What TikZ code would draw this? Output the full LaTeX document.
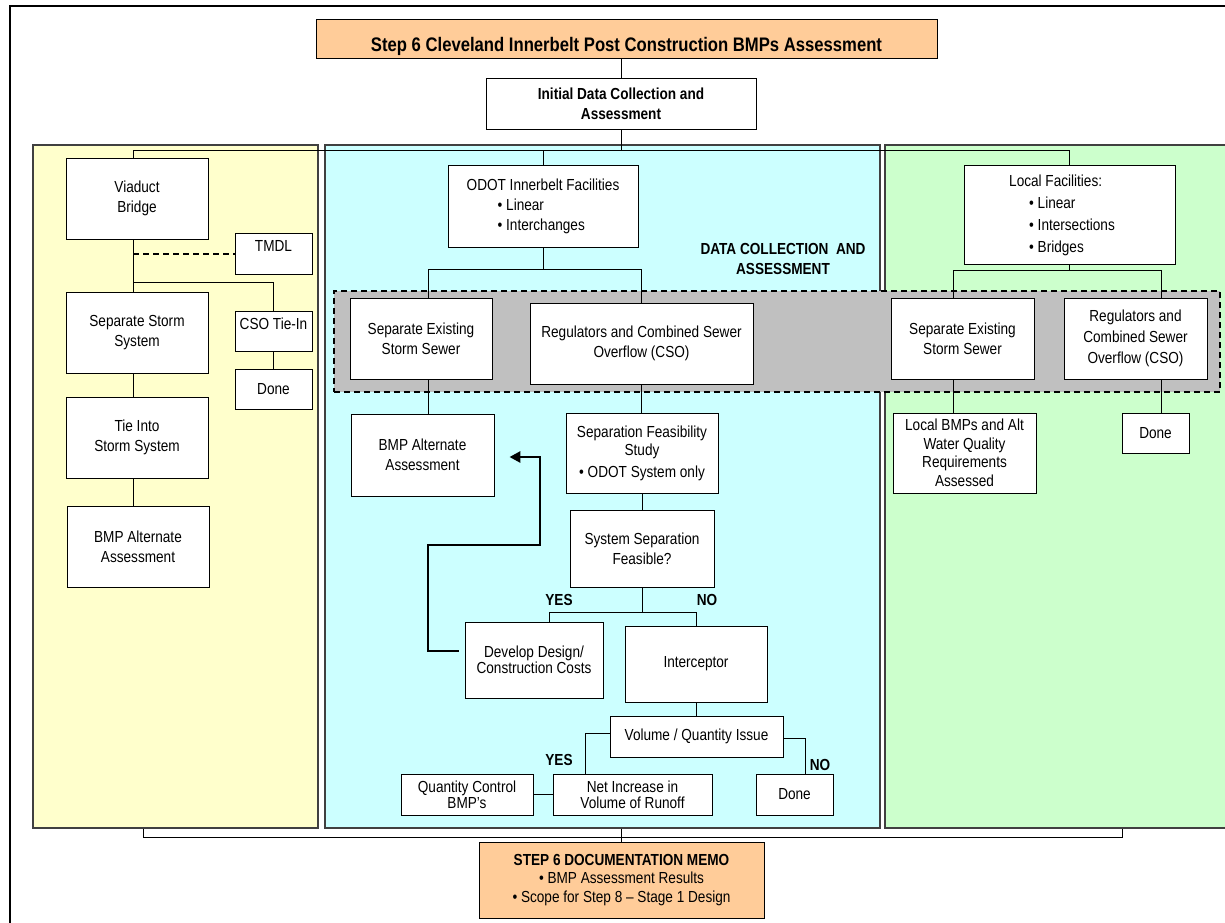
\documentclass[tikz,border=0pt]{standalone}
\usepackage{fontspec}
\setmainfont{Liberation Sans}[FakeStretch=0.85]
\usetikzlibrary{arrows.meta}
\definecolor{paleyellow}{HTML}{FFFFCC}
\definecolor{palecyan}{HTML}{CCFFFF}
\definecolor{palegreen}{HTML}{CCFFCC}
\definecolor{peach}{HTML}{FFCC99}
\definecolor{zonegray}{HTML}{C0C0C0}
\newcommand{\bodyfont}{\fontsize{16}{20}\selectfont}
\newcommand{\tightfont}{\fontsize{16}{16}\selectfont}
\newcommand{\headfont}{\fontsize{16}{20}\selectfont\bfseries}

\begin{document}
\begin{tikzpicture}[x=1pt,y=-1pt,
  box/.style={draw=black, fill=white, line width=0.9pt, inner sep=0pt, align=center, font=\bodyfont},
  panel/.style={draw=black!75, line width=1.2pt, inner sep=0pt},
  memobox/.style={box, fill=peach},
  link/.style={line width=0.9pt},
  txt/.style={inner sep=0pt, align=center, font=\bodyfont},
  tag/.style={inner sep=0pt, font=\headfont},
  backarrow/.style={line width=2.8pt, -{Triangle[length=11pt,width=11pt]}},
  tmdlline/.style={line width=2pt, dash pattern=on 6pt off 4pt}]

\useasboundingbox (0,0) rectangle (1225,922);
\clip (0,0) rectangle (1225,922);
\fill[white] (0,0) rectangle (1225,922);

% outer frame
\draw[line width=2.8pt] (10,6) rectangle (1245,945);

% coloured zones
\node[panel, fill=paleyellow, minimum width=285, minimum height=683] (zoneA) at (175.5,486.5) {};
\node[panel, fill=palecyan, minimum width=555, minimum height=683] (zoneB) at (602.5,486.5) {};
\node[panel, fill=palegreen, minimum width=350, minimum height=683] (zoneC) at (1060,486.5) {};
% grey data-collection band
\node[draw=black, line width=2pt, dash pattern=on 6pt off 4pt, fill=zonegray, inner sep=0pt,
      minimum width=886, minimum height=101] (band) at (777,341.5) {};

% header
\node[memobox, minimum width=621, minimum height=39] (head) at (626.5,38.5) {};
\node[tag, font=\fontsize{19.6}{22}\selectfont\bfseries] (headtext) at (626.5,46)
  {Step 6 Cleveland Innerbelt Post Construction BMPs Assessment};
\node[box, font=\headfont, minimum width=270, minimum height=51] (init) at (621,103.5)
  {Initial Data Collection and\\Assessment};

% viaduct / bridge column
\node[box, minimum width=142, minimum height=81] (viaduct) at (137,198.5) {Viaduct\\Bridge};
\node[box, minimum width=77, minimum height=41] (tmdl) at (273.5,253.5) {};
\node[txt] (tmdltext) at (273.5,246) {TMDL};
\node[box, minimum width=142, minimum height=81] (sepstorm) at (137,332.5) {Separate Storm\\System};
\node[box, minimum width=77, minimum height=40] (csotie) at (273.5,331) {};
\node[txt] (csotietext) at (273.5,324) {CSO Tie-In};
\node[box, minimum width=77, minimum height=40] (doneA) at (273.5,389) {Done};
\node[box, minimum width=142, minimum height=81] (tieinto) at (137,437.5) {Tie Into\\Storm System};
\node[box, minimum width=142, minimum height=81] (altA) at (138,546.5) {BMP Alternate\\Assessment};

% ODOT column
\node[box, align=left, minimum width=190, minimum height=82] (odot) at (543,206)
  {ODOT Innerbelt Facilities\\\hspace*{31pt}• Linear\\\hspace*{31pt}• Interchanges};
\node[txt, font=\headfont] (bandtext) at (783,258.5) {DATA COLLECTION\ \ AND\\ASSESSMENT};
\node[box, minimum width=142, minimum height=81] (sepexB) at (421,338.5) {Separate Existing\\Storm Sewer};
\node[box, minimum width=223, minimum height=81] (regB) at (641.5,343.5) {Regulators and Combined Sewer\\Overflow (CSO)};
\node[box, minimum width=143, minimum height=82] (altB) at (422.5,455) {BMP Alternate\\Assessment};
\node[box, font=\fontsize{16}{18}\selectfont, minimum width=152, minimum height=80] (feas) at (642,453)
  {Separation Feasibility\\Study\\[4pt]• ODOT System only};
\node[box, minimum width=144, minimum height=77] (sysfeas) at (642,548.5) {System Separation\\Feasible?};
\node[tag] (yesA) at (559,600) {YES};
\node[tag] (noA) at (707,600) {NO};
\node[box, font=\tightfont, minimum width=138, minimum height=76] (design) at (534,660) {Develop Design/\\Construction Costs};
\node[box, minimum width=142, minimum height=76] (intercept) at (696,664) {Interceptor};
\node[box, minimum width=173, minimum height=41] (volume) at (696.5,736.5) {Volume / Quantity Issue};
\node[tag] (yesB) at (559,760) {YES};
\node[tag] (noB) at (820,765) {NO};
\node[box, font=\tightfont, minimum width=132, minimum height=41] (qty) at (467,794.5) {Quantity Control\\BMP’s};
\node[box, font=\tightfont, minimum width=159, minimum height=41] (runoff) at (632.5,794.5) {Net Increase in\\Volume of Runoff};
\node[box, minimum width=77, minimum height=41] (doneB) at (794.5,794.5) {Done};

% local facilities column
\node[box, minimum width=211, minimum height=99] (local) at (1069.5,214.5) {};
\node[txt, align=left, font=\fontsize{16}{22}\selectfont] (localtext) at (1062,215)
  {Local Facilities:\\\hspace*{20pt}• Linear\\\hspace*{20pt}• Intersections\\\hspace*{20pt}• Bridges};
\node[box, minimum width=143, minimum height=81] (sepexC) at (962.5,338.5) {Separate Existing\\Storm Sewer};
\node[box, font=\fontsize{16}{21}\selectfont, minimum width=143, minimum height=81] (regC) at (1135.5,338.5)
  {Regulators and\\Combined Sewer\\Overflow (CSO)};
\node[box, font=\fontsize{16}{18.5}\selectfont, minimum width=143, minimum height=80] (localbmp) at (964.5,453)
  {Local BMPs and Alt\\Water Quality\\Requirements\\Assessed};
\node[box, minimum width=67, minimum height=40] (doneC) at (1155.5,433) {Done};

% documentation memo
\node[memobox, font=\fontsize{16}{18.5}\selectfont, minimum width=285, minimum height=76] (memo) at (621.5,880)
  {\textbf{STEP 6 DOCUMENTATION MEMO}\\• BMP Assessment Results\\• Scope for Step 8 – Stage 1 Design};

% ---- connectors ----
\coordinate (busTop) at (0,150);
\coordinate (spine) at (133,0);
\draw[link] (init.north |- head.south) -- (init.north);
\draw[link] (init.south) -- (init.south |- busTop);
\draw[link] (spine |- viaduct.north) -- (spine |- busTop) -- (local.north |- busTop) -- (local.north);
\draw[link] (odot.north) -- (odot.north |- busTop);

% viaduct column
\coordinate (jA) at (133,282);
\draw[link] (spine |- viaduct.south) -- (spine |- sepstorm.north);
\draw[link] (jA) -| (csotie.north);
\draw[tmdlline] (spine |- tmdl.west) -- (tmdl.west);
\draw[link] (csotie.south) -- (doneA.north);
\draw[link] (spine |- sepstorm.south) -- (spine |- tieinto.north);
\draw[link] (spine |- tieinto.south) -- (spine |- altA.north);

% ODOT column
\coordinate (jB) at (0,269);
\coordinate (colS) at (428,0);
\draw[link] (odot.south) -- (odot.south |- jB);
\draw[link] (colS |- sepexB.north) -- (colS |- jB) -- (regB.north |- jB) -- (regB.north);
\draw[link] (colS |- sepexB.south) -- (colS |- altB.north);
\draw[link] (regB.south) -- (regB.south |- feas.north);
\draw[link] (feas.south) -- (feas.south |- sysfeas.north);
\coordinate (jC) at (0,612);
\coordinate (colD) at (549,0);
\draw[link] (sysfeas.south) -- (sysfeas.south |- jC);
\draw[link] (colD |- design.north) -- (colD |- jC) -- (intercept.north |- jC) -- (intercept.north);
\draw[link] (intercept.south) -- (intercept.south |- volume.north);
\coordinate (colY) at (585,0);
\coordinate (colN) at (805,0);
\draw[link] ([yshift=3.5pt]volume.west) -| (colY |- runoff.north);
\draw[link] ([yshift=-1.5pt]volume.east) -| (colN |- doneB.north);
\draw[link] (qty.east) -- (runoff.west);
\coordinate (fbA) at (428,545);
\coordinate (fbB) at (540,457);
\draw[backarrow] ([xshift=-6pt,yshift=9pt]design.west) -| (fbA) -| (fbB) -- ([xshift=15pt,yshift=-2pt]altB.east);

% local column
\coordinate (jE) at (0,270);
\coordinate (colL) at (953,0);
\coordinate (colR) at (1161,0);
\draw[link] (local.south) -- (local.south |- jE);
\draw[link] (colL |- sepexC.north) -- (colL |- jE) -- (colR |- jE) -- (colR |- regC.north);
\draw[link] (colL |- sepexC.south) -- (colL |- localbmp.north);
\draw[link] (colR |- regC.south) -- (colR |- doneC.north);

% bottom bus to the memo
\coordinate (busBot) at (0,837);
\coordinate (legA) at (143,0);
\coordinate (legC) at (1122,0);
\draw[link] (legA |- zoneA.south) -- (legA |- busBot) -- (legC |- busBot) -- (legC |- zoneC.south);
\draw[link] (memo.north |- zoneB.south) -- (memo.north);
\end{tikzpicture}
\end{document}
